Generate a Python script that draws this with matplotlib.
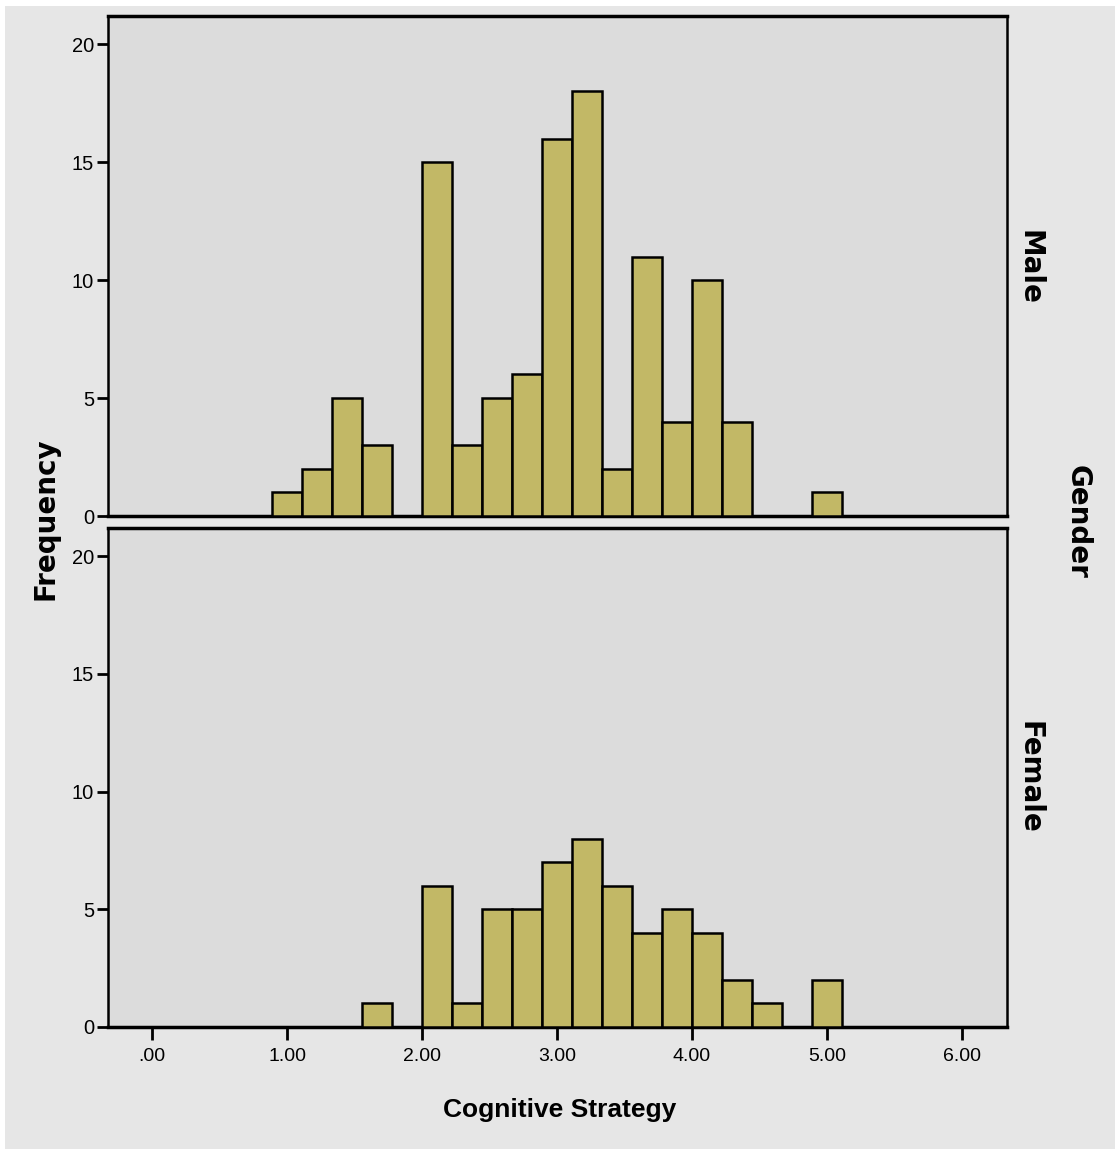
import matplotlib
matplotlib.use("Agg")
import matplotlib.pyplot as plt
from matplotlib.patches import Rectangle
import numpy as np

bin_width = 2 / 9
first_bin = 4 * bin_width  # 0.889
male_counts = [1, 2, 5, 3, 0, 15, 3, 5, 6, 16, 18, 2, 11, 4, 10, 4, 0, 0, 1]
female_counts = [0, 0, 0, 1, 0, 6, 1, 5, 5, 7, 8, 6, 4, 5, 4, 2, 1, 0, 2]
x_ticks = [0, 1, 2, 3, 4, 5, 6]
x_ticklabels = [".00", "1.00", "2.00", "3.00", "4.00", "5.00", "6.00"]
y_ticks = [0, 5, 10, 15, 20]
groups = ["Male", "Female"]

bar_color = "#c2b866"
panel_bg = "#dcdcdc"
outer_bg = "#e6e6e6"
narrow = ["Liberation Sans", "DejaVu Sans"]

W, H = 1119, 1153
fig = plt.figure(figsize=(W / 100, H / 100), dpi=100, facecolor="white")
fig.patches.append(Rectangle((5 / W, 4 / H), 1 - 9 / W, 1 - 10 / H,
                             transform=fig.transFigure, facecolor=outer_bg,
                             edgecolor="none", zorder=-10))

left = 108 / W
width = (1007 - 108) / W
ax_top = fig.add_axes([left, 1 - 516 / H, width, (516 - 16) / H])
ax_bot = fig.add_axes([left, 1 - 1027 / H, width, (1027 - 528) / H])

edges = first_bin + bin_width * np.arange(len(male_counts))

for ax, counts in zip([ax_top, ax_bot], [male_counts, female_counts]):
    ax.set_facecolor(panel_bg)
    ax.bar(edges, counts, width=bin_width, align="edge", color=bar_color,
           edgecolor="black", linewidth=1.8, zorder=3)
    ax.set_xlim(-0.326, 6.333)
    ax.set_ylim(0, 21.2)
    ax.set_yticks(y_ticks)
    ax.set_yticklabels([str(v) for v in y_ticks], family=narrow, fontsize=14.5)
    ax.tick_params(axis="y", direction="out", length=8, width=2, pad=2)
    for s in ax.spines.values():
        s.set_linewidth(1.8)
    ax.spines["top"].set_linewidth(2.5)
    ax.spines["bottom"].set_linewidth(2.5)

ax_top.set_xticks([])
ax_bot.set_xticks(x_ticks)
ax_bot.set_xticklabels(x_ticklabels, family=narrow, fontsize=14)
ax_bot.tick_params(axis="x", direction="out", length=9, width=2, pad=6)

# etiquetas
fig.text(46 / W, 1 - 519 / H, "Frequency", rotation=90, ha="center", va="center",
         fontsize=20, fontweight="bold")
fig.text(560 / W, 1 - 1110 / H, "Cognitive Strategy", ha="center", va="center",
         fontsize=19, fontweight="bold", family=narrow)
fig.text(1030 / W, 1 - 267 / H, groups[0], rotation=-90, ha="center", va="center",
         fontsize=20, fontweight="bold")
fig.text(1030 / W, 1 - 777 / H, groups[1], rotation=-90, ha="center", va="center",
         fontsize=20, fontweight="bold")
fig.text(1078 / W, 1 - 522 / H, "Gender", rotation=-90, ha="center", va="center",
         fontsize=20, fontweight="bold")

fig.savefig("out.png", dpi=100, facecolor=fig.get_facecolor())
